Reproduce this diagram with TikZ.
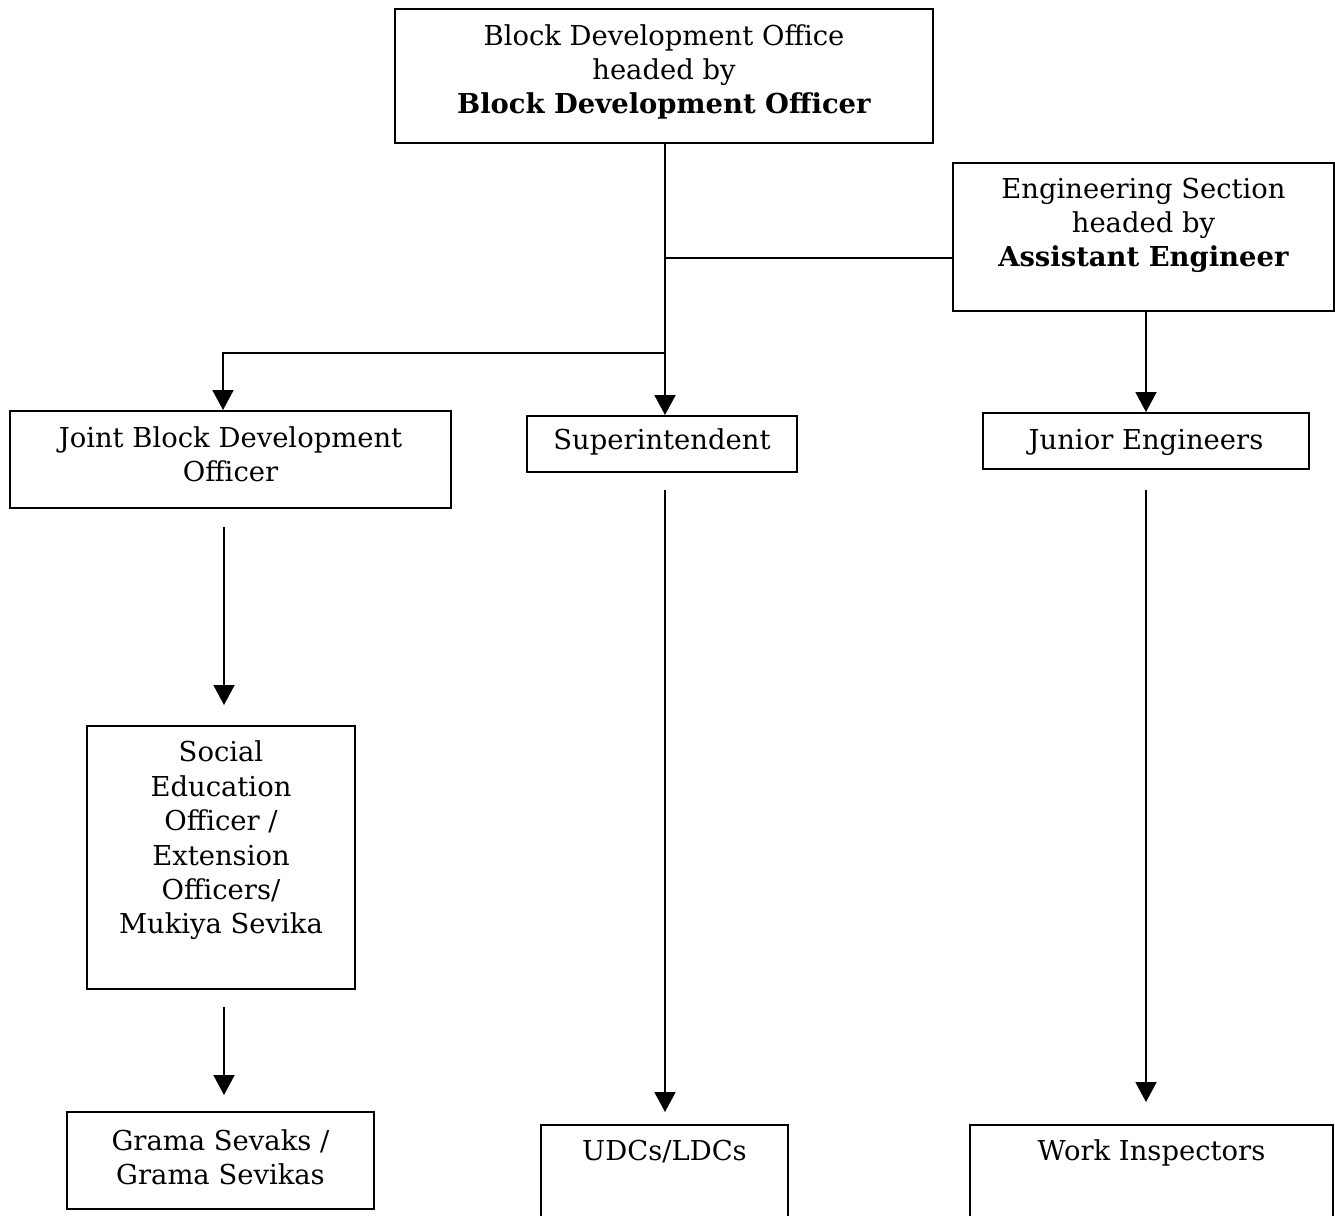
\documentclass[tikz,border=0pt]{standalone}
\usepackage{fontspec}
\setmainfont{DejaVu Serif}
\usetikzlibrary{arrows.meta}
\usetikzlibrary{calc}
\usetikzlibrary{positioning}

\begin{document}
\begin{tikzpicture}[>={Triangle[width=0.42cm,length=0.40cm]}, line width=1.1pt,
  font={\fontsize{15.6}{19.6}\selectfont}]
  \tikzstyle{box}=[draw=black, anchor=north, align=center, inner xsep=0pt, inner ysep=0pt]
  \useasboundingbox (0,0) rectangle (26.7,-24.3);
  % boxes
  \node[box, minimum width=10.76cm, text height=2.10cm, text depth=0.58cm] (bdo) at (13.28,-0.16)
    {Block Development Office\\headed by\\\textbf{Block Development Officer}};
  \node[box, minimum width=7.62cm, text height=2.08cm, text depth=0.88cm] (eng) at (22.87,-3.24)
    {Engineering Section\\headed by\\\textbf{Assistant Engineer}};
  \node[box, minimum width=8.82cm, text height=1.42cm, text depth=0.52cm] (jbdo) at (4.61,-8.20)
    {Joint Block Development\\Officer};
  \node[box, minimum width=5.40cm, text height=0.68cm, text depth=0.44cm] (sup) at (13.24,-8.30)
    {Superintendent};
  \node[box, minimum width=6.52cm, text height=0.74cm, text depth=0.38cm] (jun) at (22.92,-8.24)
    {Junior Engineers};
  \node[box, minimum width=5.36cm, text height=4.16cm, text depth=1.10cm] (seo) at (4.42,-14.50)
    {Social\\Education\\Officer /\\Extension\\Officers/\\Mukiya Sevika};
  \node[box, minimum width=6.14cm, text height=1.46cm, text depth=0.48cm] (grama) at (4.41,-22.22)
    {Grama Sevaks /\\Grama Sevikas};
  \node[box, minimum width=4.94cm, text height=0.72cm, text depth=2.00cm] (udc) at (13.29,-22.48)
    {UDCs/LDCs};
  \node[box, minimum width=7.26cm, text height=0.72cm, text depth=2.00cm] (work) at (23.03,-22.48)
    {Work Inspectors};
  % connectors
  \coordinate (engtap) at (13.30,-5.16);
  \coordinate (split) at (13.30,-7.06);
  \draw[->] (bdo.south -| split) -- (split |- sup.north);
  \draw (engtap) -- (engtap -| eng.west);
  \draw[->] (split) -| ($(jbdo.north)+(-0.15,0)$);
  \draw[->] (jun.north |- eng.south) -- (jun.north);
  \draw[->, shorten <=0.36cm, shorten >=0.40cm] (4.48,0 |- jbdo.south) -- (4.48,0 |- seo.north);
  \draw[->, shorten <=0.34cm, shorten >=0.32cm] (4.48,0 |- seo.south) -- (4.48,0 |- grama.north);
  \draw[->, shorten <=0.34cm, shorten >=0.24cm] (split |- sup.south) -- (split |- udc.north);
  \draw[->, shorten <=0.40cm, shorten >=0.44cm] (jun.south) -- (jun.south |- work.north);
\end{tikzpicture}
\end{document}
